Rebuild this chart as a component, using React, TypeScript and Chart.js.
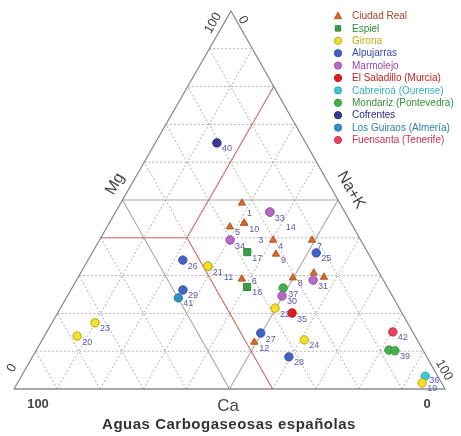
import React, { useEffect, useRef } from 'react';
import { Chart, registerables } from 'chart.js';

Chart.register(...registerables);

// Ternary projection: x = Na+K + Mg * APEX_SHIFT, y = Mg (Ca = 100 - Mg - Na+K)
const APEX_SHIFT = 0.5035;

const seriesNames = [
  'Ciudad Real',
  'Espiel',
  'Girona',
  'Alpujarras',
  'Marmolejo',
  'El Saladillo (Murcia)',
  'Cabreiroá (Ourense)',
  'Mondariz (Pontevedra)',
  'Cofrentes',
  'Los Guiraos (Almería)',
  'Fuensanta (Tenerife)',
];

type Pt = [number, number, string]; // [Mg %, Na+K %, label]

const ciudadReal: Pt[] = [
  [49.2, 28.1, '1'], [42.9, 28.5, '5'], [43.9, 31.3, '10'], [43.9, 31.3, '3'],
  [39.4, 40.3, '4'], [35.7, 42.8, '9'], [39.4, 49.3, '7'], [29.1, 38.2, '6'],
  [29.4, 49.9, '8'], [30.7, 54.1, ''], [29.6, 57.0, ''], [12.4, 49.5, '12'],
];
const espiel: Pt[] = [[36.2, 35.9, '17'], [27.0, 40.5, '16']];
const girona: Pt[] = [
  [32.5, 28.6, '21'], [32.5, 28.6, '11'], [21.4, 49.8, '22'], [13.0, 60.8, '24'],
  [17.5, 10.0, '23'], [14.0, 7.6, '20'], [1.6, 93.9, '19'],
];
const alpujarras: Pt[] = [
  [34.1, 22.0, '26'], [26.2, 26.0, '29'], [36.0, 52.0, '25'], [14.8, 49.8, '27'], [8.5, 59.5, '28'],
];
const marmolejo: Pt[] = [
  [46.8, 35.8, '33'], [46.8, 35.8, '14'], [39.4, 30.3, '34'], [28.8, 54.9, '31'], [24.6, 49.8, '30'],
];
const saladillo: Pt[] = [[20.1, 54.4, '35']];
const cabreiroa: Pt[] = [[3.4, 93.7, '36']];
const mondariz: Pt[] = [[26.7, 49.0, '37'], [10.3, 81.8, ''], [10.1, 83.3, '39']];
const cofrentes: Pt[] = [[65.1, 14.3, '40']];
const guiraos: Pt[] = [[24.1, 26.0, '41']];
const fuensanta: Pt[] = [[15.1, 80.3, '42']];

const seriesData: Pt[][] = [
  ciudadReal, espiel, girona, alpujarras, marmolejo, saladillo,
  cabreiroa, mondariz, cofrentes, guiraos, fuensanta,
];

const gridSteps = [10, 20, 30, 40, 60, 70, 80, 90];
const midStep = 50;
// red boundary, [Mg, Na+K]
const redBoundaryA: [number, number][] = [[80, 20], [40, 20], [40, 0]];
const redBoundaryB: [number, number][] = [[40, 20], [0, 60]];

const seriesStyle = [
  { shape: 'triangle', fill: '#cf6a2e', border: '#b85a22', text: '#a8442a' },
  { shape: 'rect', fill: '#3d9a45', border: '#2f8a38', text: '#2f8a38' },
  { shape: 'circle', fill: '#f4e22a', border: '#b8a410', text: '#c4b010' },
  { shape: 'circle', fill: '#4462c4', border: '#3452b4', text: '#3848b0' },
  { shape: 'circle', fill: '#b66ac8', border: '#9a50ae', text: '#9848a8' },
  { shape: 'circle', fill: '#e21c1c', border: '#c01010', text: '#c82020' },
  { shape: 'circle', fill: '#44c6d0', border: '#30aab4', text: '#38b0bc' },
  { shape: 'circle', fill: '#44b04a', border: '#349a3a', text: '#349038' },
  { shape: 'circle', fill: '#37379a', border: '#28287e', text: '#2a2a80' },
  { shape: 'circle', fill: '#3390c6', border: '#2478ac', text: '#2a80b0' },
  { shape: 'circle', fill: '#e6445e', border: '#c8304a', text: '#d03050' },
];

const labelShift: Record<string, [number, number]> = {
  '14': [16, 15], '11': [16, 11], '3': [14, 17], '6': [10, 3], '36': [4, 4], '1': [5, 10],
};

const toXY = (mg: number, nak: number) => ({ x: nak + mg * APEX_SHIFT, y: mg });
const GAP = { x: null as any, y: null as any };

function buildGrid(steps: number[]) {
  const pts: any[] = [];
  steps.forEach((k) => {
    pts.push(toXY(k, 0), toXY(k, 100 - k), GAP); // Mg = k
    pts.push(toXY(0, k), toXY(100 - k, k), GAP); // Na+K = k
    pts.push(toXY(0, 100 - k), toXY(100 - k, 0), GAP); // Ca = k
  });
  return pts;
}

const FONT = 'Arial, "Liberation Sans", Helvetica, sans-serif';

const pointLabelPlugin = {
  id: 'pointLabels',
  afterDatasetsDraw(chart: any) {
    const ctx = chart.ctx;
    ctx.save();
    ctx.font = `9px ${FONT}`;
    ctx.fillStyle = '#5858b4';
    ctx.textBaseline = 'middle';
    ctx.textAlign = 'left';
    chart.data.datasets.forEach((ds: any, i: number) => {
      if (!ds.pointLabels) return;
      const meta = chart.getDatasetMeta(i);
      meta.data.forEach((el: any, j: number) => {
        const t = ds.pointLabels[j];
        if (!t) return;
        const off = labelShift[t] || [5, 6];
        ctx.fillText(t, el.x + off[0], el.y + off[1]);
      });
    });
    ctx.restore();
  },
};

function drawShape(ctx: CanvasRenderingContext2D, shape: string, x: number, y: number, r: number, fill: string, border: string) {
  ctx.beginPath();
  if (shape === 'triangle') {
    ctx.moveTo(x, y - r * 1.1);
    ctx.lineTo(x + r, y + r * 0.75);
    ctx.lineTo(x - r, y + r * 0.75);
    ctx.closePath();
  } else if (shape === 'rect') {
    ctx.rect(x - r * 0.75, y - r * 0.75, r * 1.5, r * 1.5);
  } else {
    ctx.arc(x, y, r, 0, Math.PI * 2);
  }
  ctx.fillStyle = fill;
  ctx.fill();
  ctx.strokeStyle = border;
  ctx.lineWidth = 1;
  ctx.stroke();
}

const textPlugin = {
  id: 'ternaryText',
  afterDraw(chart: any) {
    const ctx: any = chart.ctx;
    ctx.save();
    ctx.textAlign = 'center';
    ctx.textBaseline = 'middle';
    ctx.fillStyle = '#444444';
    const put = (t: string, x: number, y: number, size: number, ang: number, weight = 'normal', spacing = '0px') => {
      ctx.save();
      ctx.translate(x, y);
      ctx.rotate((ang * Math.PI) / 180);
      ctx.font = `${weight} ${size}px ${FONT}`;
      ctx.letterSpacing = spacing;
      ctx.fillText(t, 0, 0);
      ctx.restore();
    };
    put('100', 213, 23, 13, -60);
    put('0', 243, 20, 13, 60);
    put('Mg', 115, 184, 16, -60);
    put('Na+K', 351, 190, 16, 60);
    put('0', 12, 368, 13, -60);
    put('100', 444, 370, 13, 60);
    put('100', 38, 404, 13, 0, 'bold');
    put('0', 427, 404, 13, 0, 'bold');
    put('Ca', 228, 406, 17);
    ctx.fillStyle = '#333333';
    put('Aguas Carbogaseosas españolas', 229, 425, 15, 0, 'bold', '0.5px');

    // legend
    ctx.textAlign = 'left';
    ctx.letterSpacing = '0px';
    seriesNames.forEach((name, i) => {
      const y = 16 + i * 12.4;
      const st = seriesStyle[i];
      drawShape(ctx, st.shape, 338, y, 3.6, st.fill, st.border);
      ctx.font = `10px ${FONT}`;
      ctx.fillStyle = st.text;
      ctx.textBaseline = 'middle';
      ctx.fillText(name, 352, y + 0.5);
    });
    ctx.restore();
  },
};

export default function App() {
  const ref = useRef<HTMLCanvasElement | null>(null);

  useEffect(() => {
    if (!ref.current) return;

    const pointSets = seriesData.map((arr, i) => {
      const st = seriesStyle[i];
      return {
        label: seriesNames[i],
        data: arr.map((p) => toXY(p[0], p[1])),
        pointLabels: arr.map((p) => p[2]),
        pointStyle: st.shape,
        pointRadius: st.shape === 'rect' ? 5 : 4.2,
        backgroundColor: st.fill,
        borderColor: st.border,
        borderWidth: 1,
        showLine: false,
        clip: false,
        order: 0,
      };
    });

    const lineBase = {
      showLine: true,
      pointRadius: 0,
      pointHoverRadius: 0,
      fill: false,
      spanGaps: false,
      tension: 0,
      clip: false,
    };

    const datasets: any[] = [
      ...pointSets,
      {
        ...lineBase,
        label: 'red',
        data: [
          ...redBoundaryA.map((p) => toXY(p[0], p[1])),
          GAP,
          ...redBoundaryB.map((p) => toXY(p[0], p[1])),
        ],
        borderColor: 'rgba(214,96,80,0.9)',
        borderWidth: 1.1,
        order: 2,
      },
      {
        ...lineBase,
        label: 'outline',
        data: [toXY(0, 0), toXY(100, 0), toXY(0, 100), toXY(0, 0)],
        borderColor: '#8a8a8a',
        borderWidth: 1.3,
        order: 3,
      },
      {
        ...lineBase,
        label: 'mid',
        data: buildGrid([midStep]),
        borderColor: '#a8a8a8',
        borderWidth: 1.1,
        order: 4,
      },
      {
        ...lineBase,
        label: 'grid',
        data: buildGrid(gridSteps),
        borderColor: 'rgba(120,120,120,0.75)',
        borderWidth: 0.8,
        borderDash: [2, 2],
        order: 5,
      },
    ];

    const chart = new Chart(ref.current, {
      type: 'scatter',
      data: { datasets },
      options: {
        animation: false,
        responsive: false,
        events: [],
        layout: { padding: { left: 14, right: 16, top: 11, bottom: 47 } },
        scales: {
          x: { type: 'linear', min: 0, max: 100, display: false },
          y: { type: 'linear', min: 0, max: 100, display: false },
        },
        plugins: {
          legend: { display: false },
          tooltip: { enabled: false },
          title: { display: false },
        },
      } as any,
      plugins: [pointLabelPlugin, textPlugin],
    });
    return () => chart.destroy();
  }, []);

  return (
    <div style={{ position: 'fixed', left: 0, top: 0, width: 461, height: 436, background: '#fff' }}>
      <canvas ref={ref} width={461} height={436} style={{ width: 461, height: 436 }} />
    </div>
  );
}
